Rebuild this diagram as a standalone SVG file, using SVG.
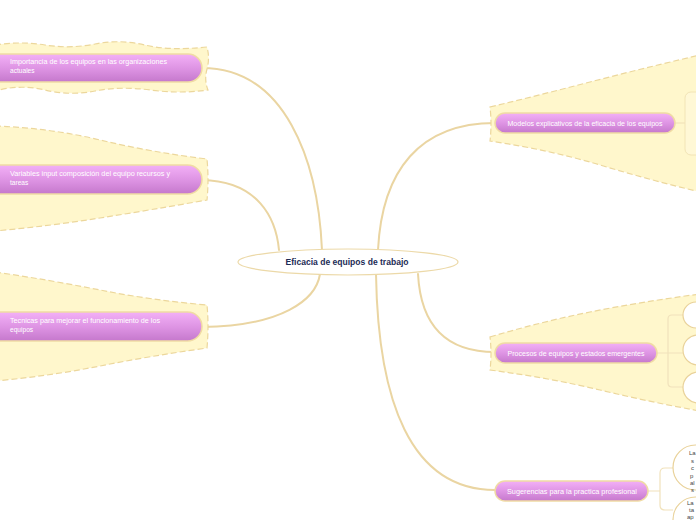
<svg xmlns="http://www.w3.org/2000/svg" width="696" height="520" viewBox="0 0 696 520">
<defs>
<linearGradient id="pg" x1="0" y1="0" x2="0" y2="1">
<stop offset="0" stop-color="#f3b0f7"/>
<stop offset="0.55" stop-color="#dc92e2"/>
<stop offset="1" stop-color="#c578cc"/>
</linearGradient>
</defs>
<style>
.cloud{fill:#fff7cc;stroke:#ecd79c;stroke-width:1.2;stroke-dasharray:6 3}
.pill{fill:url(#pg);stroke:#f0dba4;stroke-width:1.5}
.pt{font-family:"Liberation Sans","DejaVu Sans",sans-serif;font-size:6.6px;fill:#ffffff}
.conn{fill:none;stroke:#ead5a2;stroke-width:2;stroke-linecap:round}
.br{fill:none;stroke:#f1e2bb;stroke-width:1.2}
.sub{fill:#ffffff;stroke:#e9d29a;stroke-width:1.2}
.st{font-family:"Liberation Sans","DejaVu Sans",sans-serif;font-size:6px;fill:#444444}
.ct{font-family:"Liberation Sans","DejaVu Sans",sans-serif;font-size:9px;font-weight:bold;fill:#1c2b55}
</style>
<rect width="696" height="520" fill="#ffffff"/>

<g id="connectors">
<path class="conn" d="M202 68 C285 68 318 160 322 250"/>
<path class="conn" d="M202 180 C258 181 276 218 279 250"/>
<path class="conn" d="M202 327 C282 326 316 300 320 274"/>
<path class="conn" d="M378 250 C382 170 420 123 495 123"/>
<path class="conn" d="M418 274 C421 330 450 352 495 352"/>
<path class="conn" d="M376 274 C378 400 410 490 495 490"/>
</g>

<g id="n-importancia">
<path class="cloud" d="M-5 45 Q20 41 45 45 T95 44 T145 45 T207 47 Q210 58 207 69 T208 90 Q180 94 150 90 T95 91 T45 90 T-5 91 Z"/>
<rect class="pill" x="-20" y="54" width="222" height="28" rx="14"/>
<text class="pt" x="10" y="64" textLength="157" lengthAdjust="spacingAndGlyphs">Importancia de los equipos en las organizaciones</text>
<text class="pt" x="10" y="73">actuales</text>
</g>

<g id="n-variables">
<path class="cloud" d="M-5 126 Q50 128 100 140 T207 159 Q209 180 207 200 Q150 210 100 218 T-5 231 Z"/>
<rect class="pill" x="-20" y="165" width="222" height="29" rx="14.5"/>
<text class="pt" x="10" y="176" textLength="160" lengthAdjust="spacingAndGlyphs">Variables input composición del equipo recursos y</text>
<text class="pt" x="10" y="185">tareas</text>
</g>

<g id="n-tecnicas">
<path class="cloud" d="M-5 272 Q50 280 100 290 T207 305 Q209 326 207 348 Q150 356 100 366 T-5 381 Z"/>
<rect class="pill" x="-20" y="312" width="222" height="29" rx="14.5"/>
<text class="pt" x="10" y="323" textLength="150" lengthAdjust="spacingAndGlyphs">Tecnicas para mejorar el funcionamiento de los</text>
<text class="pt" x="10" y="332">equipos</text>
</g>

<g id="n-central">
<ellipse cx="348" cy="262" rx="110" ry="13" fill="#ffffff" stroke="#ecd9a8" stroke-width="1.2"/>
<text class="ct" x="347" y="265" text-anchor="middle" textLength="123" lengthAdjust="spacingAndGlyphs">Eficacia de equipos de trabajo</text>
</g>

<g id="n-modelos">
<path class="cloud" d="M490 107 Q540 95 590 82 T700 55 L700 192 Q650 180 600 165 T490 141 Q492 124 490 107 Z"/>
<rect x="685" y="92" width="30" height="63" rx="6" fill="#fff8d6" stroke="#f2e4b6" stroke-width="1"/>
<path class="br" d="M675 123 H685"/>
<rect class="pill" x="495" y="113" width="180" height="20" rx="10"/>
<text class="pt" x="585" y="126" text-anchor="middle" textLength="155" lengthAdjust="spacingAndGlyphs">Modelos explicativos de la eficacia de los equipos</text>
</g>

<g id="n-procesos">
<path class="cloud" d="M490 337 Q540 322 590 312 T700 294 L700 411 Q650 402 600 390 T490 370 Q492 354 490 337 Z"/>
<path class="br" d="M657 353 H684 M684 315 H672 Q668 315 668 319 V383 Q668 387 672 387 H684"/>
<rect class="sub" x="683" y="302" width="60" height="26" rx="13"/>
<rect class="sub" x="683" y="335" width="60" height="30" rx="15"/>
<rect class="sub" x="683" y="372" width="60" height="31" rx="15.5"/>
<rect class="pill" x="495" y="343" width="162" height="20" rx="10"/>
<text class="pt" x="576" y="356" text-anchor="middle" textLength="137" lengthAdjust="spacingAndGlyphs">Procesos de equipos y estados emergentes</text>
</g>

<g id="n-sugerencias">
<path class="br" d="M648 491 H660 M673 468 H665 Q660 468 660 473 V505 Q660 510 665 510 H673"/>
<rect class="sub" x="673" y="445" width="70" height="45" rx="22.5"/>
<rect class="sub" x="673" y="497" width="70" height="45" rx="22.5"/>
<text class="st" x="689" y="455">La</text>
<text class="st" x="691" y="463">s</text>
<text class="st" x="691" y="470">c</text>
<text class="st" x="690" y="478">p</text>
<text class="st" x="690" y="485">al</text>
<text class="st" x="691" y="492">s</text>
<text class="st" x="687" y="505">La</text>
<text class="st" x="689" y="512">ta</text>
<text class="st" x="687" y="519">ap</text>
<rect class="pill" x="495" y="481" width="153" height="20" rx="10"/>
<text class="pt" x="572" y="494" text-anchor="middle" textLength="130" lengthAdjust="spacingAndGlyphs">Sugerencias para la practica profesional</text>
</g>
</svg>
